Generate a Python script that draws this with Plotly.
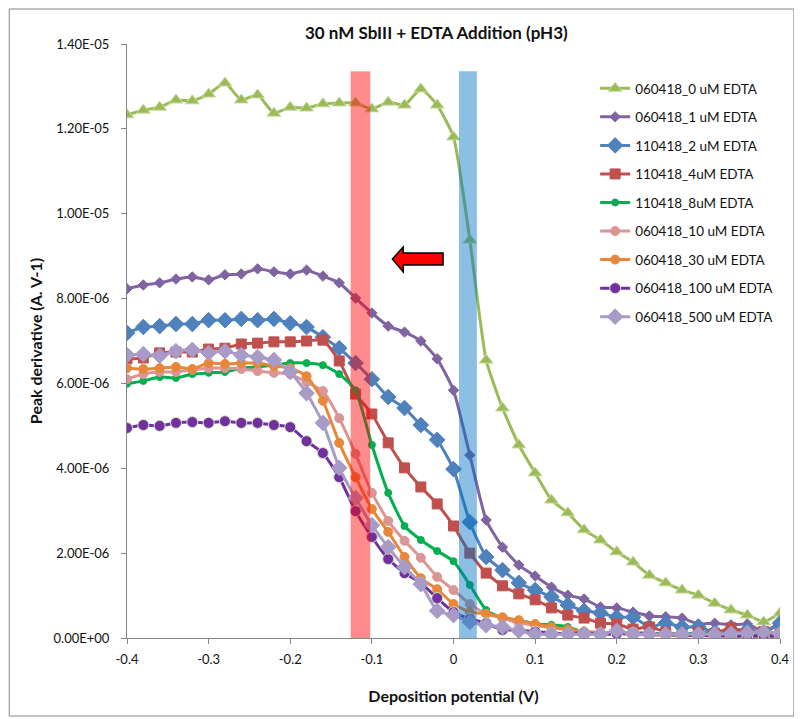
import plotly.graph_objects as go

# ---- data (values in A.V-1, x in V) ----
potential = [round(-0.4 + 0.02 * i, 2) for i in range(41)]

edta_0uM = [12.33, 12.44, 12.51, 12.68, 12.66, 12.82, 13.08, 12.68, 12.80, 12.37,
            12.51, 12.49, 12.59, 12.61, 12.61, 12.47, 12.63, 12.56, 12.94, 12.56,
            11.81, 9.38, 6.55, 5.42, 4.55, 3.89, 3.25, 2.95, 2.55, 2.31,
            2.03, 1.79, 1.48, 1.30, 1.13, 1.01, 0.82, 0.66, 0.54, 0.38, 0.59]
edta_1uM = [8.23, 8.32, 8.37, 8.46, 8.51, 8.44, 8.56, 8.58, 8.70, 8.63,
            8.58, 8.67, 8.53, 8.37, 8.01, 7.66, 7.35, 7.21, 7.00, 6.58,
            5.84, 4.31, 2.78, 2.14, 1.72, 1.46, 1.20, 1.01, 0.92, 0.73,
            0.71, 0.61, 0.52, 0.50, 0.47, 0.33, 0.35, 0.31, 0.33, 0.16, 0.35]
edta_2uM = [7.19, 7.33, 7.35, 7.40, 7.40, 7.49, 7.49, 7.52, 7.49, 7.52,
            7.42, 7.33, 7.09, 6.83, 6.48, 6.10, 5.68, 5.42, 5.02, 4.67,
            3.98, 2.73, 1.91, 1.60, 1.30, 1.13, 0.97, 0.78, 0.64, 0.59,
            0.49, 0.49, 0.26, 0.35, 0.26, 0.26, 0.14, 0.19, 0.19, 0.12, 0.35]
edta_4uM = [6.58, 6.60, 6.72, 6.74, 6.74, 6.81, 6.83, 6.93, 6.95, 6.98,
            6.98, 7.00, 7.02, 6.53, 5.75, 5.28, 4.60, 4.01, 3.56, 3.16,
            2.64, 2.00, 1.53, 1.23, 1.04, 0.90, 0.71, 0.54, 0.47, 0.35,
            0.33, 0.21, 0.26, 0.14, 0.07, 0.14, 0.10, 0.24, 0.12, 0.15, 0.10]
edta_8uM = [5.99, 6.06, 6.15, 6.13, 6.22, 6.25, 6.27, 6.36, 6.39, 6.43,
            6.48, 6.48, 6.43, 6.22, 5.84, 4.55, 3.42, 2.64, 2.31, 2.05,
            1.81, 1.25, 0.66, 0.47, 0.42, 0.33, 0.31, 0.26, 0.14, 0.12,
            0.12, 0.12, 0.11, 0.10, 0.09, 0.12, 0.10, 0.09, 0.09, 0.08, 0.09]
edta_10uM = [6.10, 6.22, 6.27, 6.27, 6.32, 6.36, 6.36, 6.34, 6.29, 6.25,
             6.22, 6.03, 5.82, 5.18, 4.34, 3.42, 2.76, 2.29, 1.89, 1.44,
             1.13, 0.80, 0.57, 0.47, 0.35, 0.30, 0.24, 0.20, 0.15, 0.12,
             0.10, 0.08, 0.07, 0.06, 0.05, 0.05, 0.04, 0.04, 0.03, 0.03, 0.03]
edta_30uM = [6.36, 6.34, 6.36, 6.39, 6.34, 6.48, 6.46, 6.48, 6.48, 6.41,
             6.36, 6.17, 5.59, 4.60, 3.79, 3.04, 2.50, 1.91, 1.41, 1.15,
             0.80, 0.61, 0.57, 0.49, 0.42, 0.33, 0.26, 0.20, 0.16, 0.13,
             0.11, 0.09, 0.08, 0.07, 0.06, 0.06, 0.05, 0.07, 0.05, 0.04, 0.04]
edta_100uM = [4.95, 5.02, 5.00, 5.07, 5.09, 5.07, 5.11, 5.07, 5.07, 5.02,
              4.97, 4.64, 4.36, 3.79, 2.99, 2.38, 1.86, 1.53, 1.30, 0.94,
              0.61, 0.45, 0.35, 0.19, 0.19, 0.15, 0.12, 0.10, 0.13, 0.08,
              0.10, 0.12, 0.10, 0.08, 0.07, 0.06, 0.06, 0.05, 0.05, 0.05, 0.05]
edta_500uM = [6.67, 6.69, 6.65, 6.76, 6.79, 6.72, 6.76, 6.67, 6.62, 6.55,
              6.27, 5.77, 5.07, 4.01, 3.30, 2.66, 2.14, 1.67, 1.27, 0.64,
              0.54, 0.38, 0.30, 0.26, 0.17, 0.09, 0.09, 0.09, 0.09, 0.09,
              0.17, 0.09, 0.09, 0.09, 0.09, 0.09, 0.09, 0.10, 0.12, 0.14, 0.10]

series_names = ["060418_0 uM EDTA", "060418_1 uM EDTA", "110418_2 uM EDTA",
                "110418_4uM EDTA", "110418_8uM EDTA", "060418_10 uM EDTA",
                "060418_30 uM EDTA", "060418_100 uM EDTA", "060418_500 uM EDTA"]
series_values = [edta_0uM, edta_1uM, edta_2uM, edta_4uM, edta_8uM,
                 edta_10uM, edta_30uM, edta_100uM, edta_500uM]

y_ticks = [i * 2e-6 for i in range(8)]
y_ticklabels = [f"{v:.2E}" for v in y_ticks]
x_ticks = [-0.4, -0.3, -0.2, -0.1, 0.0, 0.1, 0.2, 0.3, 0.4]
x_ticklabels = ["-0.4", "-0.3", "-0.2", "-0.1", "0", "0.1", "0.2", "0.3", "0.4"]

red_band = [-0.126, -0.102]
blue_band = [0.0067, 0.0286]
band_top = 13.36e-6

# ---- styles ----
styles = [
    dict(color="#9BBB59", symbol="triangle-up", size=12, lw=3, mline="#C9DBA0"),
    dict(color="#8064A2", symbol="diamond", size=8, lw=3, mline="#8064A2"),
    dict(color="#4F81BD", symbol="diamond", size=12, lw=3, mline="#4F81BD"),
    dict(color="#C0504D", symbol="square", size=10, lw=3, mline="#C0504D"),
    dict(color="#00B050", symbol="circle", size=7, lw=3, mline="#00B050"),
    dict(color="#D99694", symbol="circle", size=9, lw=3, mline="#D99694"),
    dict(color="#E8873A", symbol="circle", size=9, lw=3, mline="#E8873A"),
    dict(color="#7030A0", symbol="circle", size=11, lw=3, mline="#D7E4BD"),
    dict(color="#A89BC8", symbol="diamond", size=12, lw=3, mline="#A89BC8"),
]

FONT = "Lato"
TXT = "#111111"

# page has an 8px body margin; figure is placed at (8, 8)
W, H = 794, 711
PL, PT, PR, PB = 127, 44, 784, 638   # plot area in page pixels

fig = go.Figure()
for i, (name, vals, st) in enumerate(zip(series_names, series_values, styles)):
    fig.add_trace(go.Scatter(
        x=potential, y=[v * 1e-6 for v in vals], name=name,
        mode="lines+markers",
        line=dict(color=st["color"], width=st["lw"], shape="spline", smoothing=0.5),
        marker=dict(symbol=st["symbol"], size=st["size"], color=st["color"],
                    line=dict(color=st["mline"], width=1)),
        legendgroup=f"g{i}",
    ))

fig.add_shape(type="rect", xref="x", yref="y", x0=red_band[0], x1=red_band[1],
              y0=0, y1=band_top, fillcolor="rgba(255,0,0,0.45)", line_width=0, layer="above")
fig.add_shape(type="rect", xref="x", yref="y", x0=blue_band[0], x1=blue_band[1],
              y0=0, y1=band_top, fillcolor="rgba(0,112,192,0.45)", line_width=0, layer="above")


def px(xp, yp):
    return (xp - PL) / (PR - PL), (PB - yp) / (PB - PT)


pts = [(394, 259), (405, 247), (405, 253), (445, 253), (445, 265), (405, 265), (405, 272)]
path = "M " + " L ".join(f"{a:.4f},{b:.4f}" for a, b in (px(*p) for p in pts)) + " Z"
fig.add_shape(type="path", xref="paper", yref="paper", path=path,
              fillcolor="#FF0000", line=dict(color="#000000", width=1.5), layer="above")

bx0, by1 = px(8.5, 9)
bx1, by0 = px(798, 716)
fig.add_shape(type="rect", xref="paper", yref="paper", x0=bx0, x1=bx1, y0=by0, y1=by1,
              line=dict(color="#868686", width=1), fillcolor="rgba(0,0,0,0)", layer="below")

tx, ty = px(438, 32)
fig.add_annotation(text="30 nM SbIII + EDTA Addition (pH3)", xref="paper", yref="paper",
                   x=tx, y=ty, showarrow=False,
                   font=dict(family=FONT, size=17, color=TXT, weight="bold"),
                   xanchor="center", yanchor="middle")

lx, ly = px(598, 73)
fig.update_layout(
    width=W, height=H,
    margin=dict(l=PL - 8, r=W + 8 - PR, t=PT - 8, b=H + 8 - PB),
    paper_bgcolor="white", plot_bgcolor="white",
    font=dict(family=FONT, size=13, color=TXT),
    showlegend=True,
    legend=dict(x=lx, y=ly, xanchor="left", yanchor="top",
                bgcolor="rgba(0,0,0,0)", font=dict(family=FONT, size=13.5, color=TXT),
                tracegroupgap=8, itemwidth=30),
    xaxis=dict(range=[-0.4, 0.4], tickvals=x_ticks, ticktext=x_ticklabels,
               showgrid=False, zeroline=False, showline=True, linecolor="#868686",
               linewidth=1, ticks="outside", ticklen=5, tickcolor="#868686",
               ticklabelstandoff=4,
               tickfont=dict(family=FONT, size=13, color=TXT),
               title=dict(text="Deposition potential (V)", standoff=25,
                          font=dict(family=FONT, size=16, color=TXT, weight="bold"))),
    yaxis=dict(range=[0, 1.4e-5], tickvals=y_ticks, ticktext=y_ticklabels,
               showgrid=False, zeroline=False, showline=True, linecolor="#868686",
               linewidth=1, ticks="outside", ticklen=5, tickcolor="#868686",
               ticklabelstandoff=9,
               tickfont=dict(family=FONT, size=13, color=TXT),
               title=dict(text="Peak derivative (A. V-1)", standoff=6,
                          font=dict(family=FONT, size=16, color=TXT, weight="bold"))),
)

fig.write_html("out.html")
